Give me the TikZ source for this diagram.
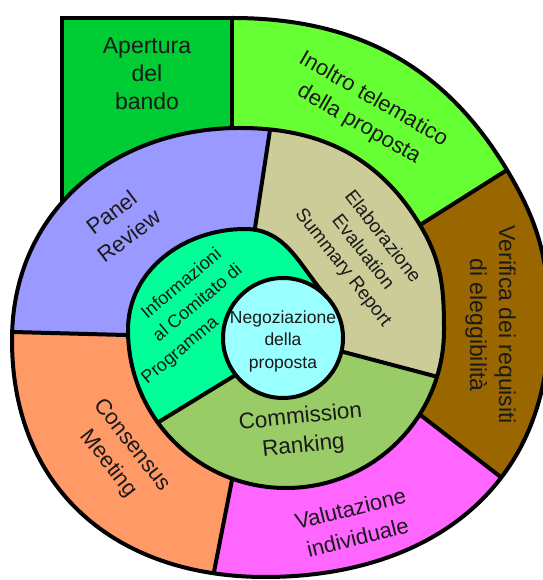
\documentclass[tikz,border=0pt]{standalone}
\usepackage{fontspec}
\setmainfont{Liberation Sans}
\definecolor{cApe}{HTML}{00CC33}
\definecolor{cIno}{HTML}{66FF33}
\definecolor{cVer}{HTML}{996600}
\definecolor{cVal}{HTML}{FF66FF}
\definecolor{cCon}{HTML}{FF9966}
\definecolor{cPan}{HTML}{9999FF}
\definecolor{cEla}{HTML}{CCCC99}
\definecolor{cCom}{HTML}{99CC66}
\definecolor{cInf}{HTML}{00FF99}
\definecolor{cNeg}{HTML}{99FFFF}
\definecolor{txt}{HTML}{1A1A1A}
\newcommand{\myfs}[2]{\fontsize{#1}{#2}\selectfont}
\begin{document}
\begin{tikzpicture}[x=1pt,y=1pt,line width=4pt,
  lbl/.style={inner sep=0pt,align=center,text=txt}]
\useasboundingbox (0,0) rectangle (542,580);
\fill[white] (0,0) rectangle (542,580);
% spiral key points
\coordinate (C) at (283,242);
\coordinate (s0) at (327.6,282.1);
\coordinate (s1) at (245,351);
\coordinate (s2) at (128,250);
\coordinate (s3) at (286,92);
\coordinate (s4) at (444,250);
\coordinate (n1) at (420,355);
\coordinate (s5) at (240,452);
\coordinate (s6) at (12,240);
\coordinate (s7) at (265,3);
\coordinate (s8) at (549,256);
\coordinate (n2) at (507,410);
\coordinate (s9) at (232,562);
\def\spA{(s0) to[out=132,in=0] (s1) to[out=180,in=90] (s2) to[out=270,in=180] (s3) to[out=0,in=270] (s4) to[out=90,in=301] (n1)}
\def\spD{to[out=180,in=90,looseness=1.05] (s6) to[out=270,in=180,looseness=1.1] (s7) to[out=0,in=270,looseness=1.1] (s8) to[out=90,in=301] (n2)}
\def\spB{to[out=121,in=0] (s5) \spD}
\def\spC{to[out=121,in=0] (s9)}
% outer layer
\begin{scope}
\clip (s5) \spD \spC -- (62,562) -- (62,380) -- (C) -- cycle;
\fill[cIno] (0,0) rectangle (560,600);
\fill[cApe] (0,330) rectangle (232,600);
\end{scope}
\draw (s9) -- (62,562) -- (62,360);
\draw (232,562) -- (232,420);
% second layer
\begin{scope}
\clip (n1) \spB -- cycle;
\fill[cVer] (C) -- (423,163) -- (897,-203) -- (950,-203) -- (950,575) -- (768,575) -- (n1) -- cycle;
\fill[cVal] (C) -- (232,100) -- (175,-191) -- (175,-220) -- (897,-220) -- (897,-203) -- (423,163) -- cycle;
\fill[cCon] (C) -- (125,245) -- (-155,252.5) -- (-155,-191) -- (175,-191) -- (232,100) -- cycle;
\fill[cPan] (C) -- (255,352) -- (307.5,695) -- (-160,695) -- (-155,252.5) -- (125,245) -- cycle;
\fill[cEla] (C) -- (n1) -- (768,575) -- (768,695) -- (307.5,695) -- (255,352) -- cycle;
\draw (399.3,181.3) -- (897,-203);
\draw (237.7,129.1) -- (175,-191);
\draw (158.6,244.1) -- (-155,252.5);
\draw (250.5,322.6) -- (307.5,695);
\end{scope}
% first layer
\begin{scope}
\clip \spA -- cycle;
\fill[cCom] (C) -- (235.7,205.1) -- (-0.4,60.8) -- (-0.4,-100) -- (700,-100) -- (631,152) -- (341.5,228.5) -- cycle;
\fill[cEla] (C) -- (341.5,228.5) -- (631,152) -- (700,152) -- (700,500.8) -- (604.8,500.8) -- (s0) -- cycle;
\fill[cInf] (C) -- (s0) -- (397.1,676) -- (-100,676) -- (-100,60.8) -- (-0.4,60.8) -- (235.7,205.1) -- cycle;
\draw (259.3,219.5) -- (-0.4,60.8);
\draw (312.5,236.2) -- (631,152);
\end{scope}
\fill[cNeg] (C) circle[radius=60];
\draw \spA \spB \spC;
\draw (n1) -- (n2);
\draw (C) circle[radius=60];
% labels
\node[lbl,font=\myfs{23}{28}] (tApe) at (147,506) {Apertura\\del\\bando};
\node[lbl,font=\myfs{22}{29},rotate=-30] (tIno) at (366,468) {Inoltro telematico\\della proposta};
\node[lbl,font=\myfs{23}{29},rotate=-90] (tVer) at (490.5,255) {Verifica dei requisiti\\di eleggibilità};
\node[lbl,font=\myfs{19}{25},rotate=-52] (tEla) at (362.5,327.5) {Elaborazione\\Evaluation\\Summary Report};
\node[lbl,font=\myfs{22}{29},rotate=37] (tPan) at (120,356) {Panel\\Review};
\node[lbl,font=\myfs{22}{30},rotate=-52] (tCon) at (120,125.4) {Consensus\\Meeting};
\node[lbl,font=\myfs{22}{30},rotate=14] (tVal) at (354,57) {Valutazione\\individuale};
\node[lbl,font=\myfs{22.5}{29},rotate=6] (tCom) at (302,148) {Commission\\Ranking};
\node[lbl,font=\myfs{18}{25},rotate=40] (tInf) at (198,276.5) {Informazioni\\al Comitato di\\\hspace*{-88pt}Programma};
\node[lbl,font=\myfs{17.5}{22.5}] (tNeg) at (283,239) {Negoziazione\\della\\proposta};
\end{tikzpicture}
\end{document}
